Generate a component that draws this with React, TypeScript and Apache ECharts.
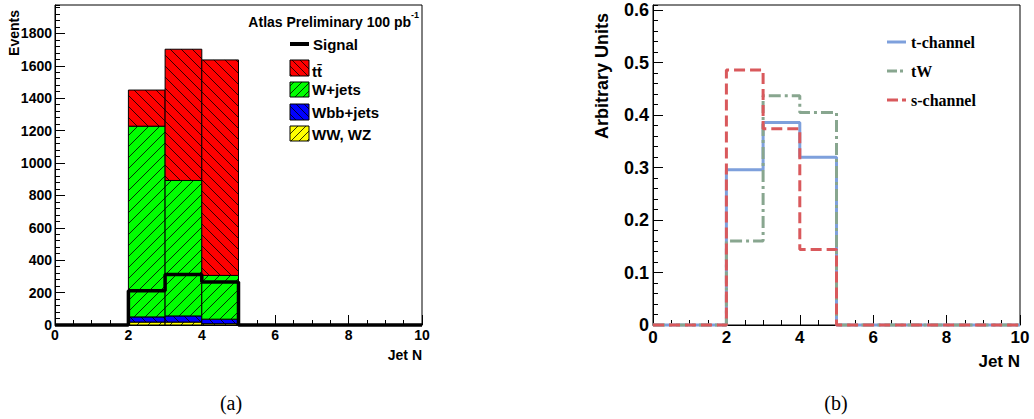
import React, { useEffect, useRef } from 'react';
import * as echarts from 'echarts';

// ---------- data ----------
const binLow = [0, 1, 2, 3, 4, 5, 6, 7, 8, 9];
const xMax = 10;

// left panel: stacked backgrounds (events per bin)
const wwwz = [0, 0, 18, 18, 8, 0, 0, 0, 0, 0];
const wbb = [0, 0, 32, 38, 28, 0, 0, 0, 0, 0];
const wjets = [0, 0, 1177, 836, 270, 0, 0, 0, 0, 0];
const ttbar = [0, 0, 223, 810, 1330, 0, 0, 0, 0, 0];
const signal = [0, 0, 212, 312, 265, 0, 0, 0, 0, 0];

// right panel: normalised shapes
const tChannel = [0, 0, 0.296, 0.386, 0.32, 0, 0, 0, 0, 0];
const tW = [0, 0, 0.16, 0.437, 0.405, 0, 0, 0, 0, 0];
const sChannel = [0, 0, 0.486, 0.374, 0.144, 0, 0, 0, 0, 0];

const leftYMax = 1975;
const rightYMax = 0.61;

// ---------- styles ----------
const stackLayers = [
  { name: 'WW, WZ', values: wwwz, color: '#ffff00', hatch: '/' },
  { name: 'Wbb+jets', values: wbb, color: '#0000ff', hatch: '\\' },
  { name: 'W+jets', values: wjets, color: '#00ff00', hatch: '/' },
  { name: 'tt\u0304', values: ttbar, color: '#ff0000', hatch: '\\' },
];

const SANS = 'Liberation Sans';
const SERIF = 'Liberation Serif';

function hatchLines(rx0: number, ry0: number, rx1: number, ry1: number, dir: string, s: number, lw: number) {
  const out: any[] = [];
  if (dir === '\\') {
    const k0 = Math.ceil((ry0 - rx1) / s), k1 = Math.floor((ry1 - rx0) / s);
    for (let k = k0; k <= k1; k++) {
      const c = k * s;
      const xa = Math.max(rx0, ry0 - c), xb = Math.min(rx1, ry1 - c);
      if (xb > xa) out.push({ type: 'line', silent: true, shape: { x1: xa, y1: xa + c, x2: xb, y2: xb + c }, style: { stroke: '#000', lineWidth: lw } });
    }
  } else {
    const k0 = Math.ceil((rx0 + ry0) / s), k1 = Math.floor((rx1 + ry1) / s);
    for (let k = k0; k <= k1; k++) {
      const c = k * s;
      const xa = Math.max(rx0, c - ry1), xb = Math.min(rx1, c - ry0);
      if (xb > xa) out.push({ type: 'line', silent: true, shape: { x1: xa, y1: c - xa, x2: xb, y2: c - xb }, style: { stroke: '#000', lineWidth: lw } });
    }
  }
  return out;
}

function stepData(vals: number[]) {
  const d: number[][] = binLow.map((b, i) => [b, vals[i]]);
  d.push([xMax, vals[vals.length - 1]]);
  return d;
}

function makeXAxes(gridIndex: number, fs: number, margin: number) {
  return [
    {
      type: 'value', gridIndex, min: 0, max: xMax, interval: 2, position: 'bottom',
      axisLine: { show: true, lineStyle: { color: '#000', width: 1 } },
      axisTick: { show: true, inside: true, length: 10, lineStyle: { color: '#000', width: 1 } },
      axisLabel: { show: true, color: '#000', fontFamily: SANS, fontWeight: 'bold', fontSize: fs, margin },
      splitLine: { show: false },
    },
    {
      type: 'value', gridIndex, min: 0, max: xMax, interval: 0.5, position: 'bottom',
      axisLine: { show: false },
      axisTick: { show: true, inside: true, length: 5, lineStyle: { color: '#000', width: 1 } },
      axisLabel: { show: false },
      splitLine: { show: false },
    },
  ];
}

function makeYAxes(gridIndex: number, max: number, major: number, minor: number, fs: number, margin: number, fmt: (v: number) => string) {
  return [
    {
      type: 'value', gridIndex, min: 0, max, interval: major, position: 'left',
      axisLine: { show: true, lineStyle: { color: '#000', width: 1 } },
      axisTick: { show: true, inside: true, length: 10, lineStyle: { color: '#000', width: 1 } },
      axisLabel: { show: true, color: '#000', fontFamily: SANS, fontWeight: 'bold', fontSize: fs, margin, showMaxLabel: false, formatter: fmt },
      splitLine: { show: false },
    },
    {
      type: 'value', gridIndex, min: 0, max, interval: minor, position: 'left',
      axisLine: { show: false },
      axisTick: { show: true, inside: true, length: 5, lineStyle: { color: '#000', width: 1 } },
      axisLabel: { show: false },
      splitLine: { show: false },
    },
  ];
}

export default function App() {
  const ref = useRef<HTMLDivElement>(null);

  useEffect(() => {
    document.body.style.margin = '0';
    if (!ref.current) return;
    const chart = echarts.init(ref.current, undefined, { renderer: 'svg' });

    // stacked rectangles data
    const stackData: number[][] = [];
    binLow.forEach((b, i) => {
      let base = 0;
      stackLayers.forEach((L, li) => {
        const top = base + L.values[i];
        if (L.values[i] > 0) stackData.push([b, base, top, li]);
        base = top;
      });
    });

    const graphic: any[] = [];
    // left legend
    graphic.push({ type: 'text', style: { text: 'Atlas Preliminary 100 pb', x: 411, y: 22, textAlign: 'right', textVerticalAlign: 'middle', font: `bold 14px "${SANS}"`, fill: '#000' } });
    graphic.push({ type: 'text', style: { text: '-1', x: 411, y: 15, textAlign: 'left', textVerticalAlign: 'middle', font: `bold 9px "${SANS}"`, fill: '#000' } });
    graphic.push({ type: 'line', shape: { x1: 290, y1: 44, x2: 309, y2: 44 }, style: { stroke: '#000', lineWidth: 4 } });
    graphic.push({ type: 'text', style: { text: 'Signal', x: 313, y: 44, textVerticalAlign: 'middle', font: `bold 15px "${SANS}"`, fill: '#000' } });
    const legBoxes = [
      { li: 3, y0: 60, y1: 76, ty: 71 },
      { li: 2, y0: 82, y1: 97, ty: 89 },
      { li: 1, y0: 104, y1: 120, ty: 112 },
      { li: 0, y0: 126, y1: 141, ty: 134 },
    ];
    legBoxes.forEach((B) => {
      const L = stackLayers[B.li];
      graphic.push({ type: 'rect', shape: { x: 290, y: B.y0, width: 19, height: B.y1 - B.y0 }, style: { fill: L.color } });
      hatchLines(290, B.y0, 309, B.y1, L.hatch, 8, 0.8).forEach((l) => graphic.push(l));
      graphic.push({ type: 'rect', shape: { x: 290, y: B.y0, width: 19, height: B.y1 - B.y0 }, style: { fill: 'none', stroke: '#000', lineWidth: 1 } });
      graphic.push({ type: 'text', style: { text: L.name, x: 312, y: B.ty, textVerticalAlign: 'middle', font: `bold 15px "${SANS}"`, fill: '#000' } });
    });
    // axis titles
    graphic.push({ type: 'text', x: 14, y: 33, rotation: Math.PI / 2, style: { text: 'Events', x: 0, y: 0, textAlign: 'center', textVerticalAlign: 'middle', font: `bold 14px "${SANS}"`, fill: '#000' } });
    graphic.push({ type: 'text', style: { text: 'Jet N', x: 422, y: 355, textAlign: 'right', textVerticalAlign: 'middle', font: `bold 14px "${SANS}"`, fill: '#000' } });
    graphic.push({ type: 'text', x: 602, y: 76, rotation: Math.PI / 2, style: { text: 'Arbitrary Units', x: 0, y: 0, textAlign: 'center', textVerticalAlign: 'middle', font: `bold 18px "${SANS}"`, fill: '#000' } });
    graphic.push({ type: 'text', style: { text: 'Jet N', x: 1020, y: 361, textAlign: 'right', textVerticalAlign: 'middle', font: `bold 17px "${SANS}"`, fill: '#000' } });
    // right legend
    const rLeg = [
      { text: 't-channel', color: '#7ea0dc', dash: null as any, y: 42 },
      { text: 'tW', color: '#88a68f', dash: [10, 3, 3, 3], y: 71 },
      { text: 's-channel', color: '#d9595c', dash: [11, 4], y: 100 },
    ];
    rLeg.forEach((e) => {
      graphic.push({ type: 'line', shape: { x1: 887, y1: e.y, x2: 906, y2: e.y }, style: { stroke: e.color, lineWidth: 3, lineDash: e.dash } });
      graphic.push({ type: 'text', style: { text: e.text, x: 911, y: e.y, textVerticalAlign: 'middle', font: `bold 16px "${SERIF}"`, fill: '#000' } });
    });
    // captions
    graphic.push({ type: 'text', style: { text: '(a)', x: 231, y: 403, textAlign: 'center', textVerticalAlign: 'middle', font: `20px "${SERIF}"`, fill: '#000' } });
    graphic.push({ type: 'text', style: { text: '(b)', x: 836, y: 403, textAlign: 'center', textVerticalAlign: 'middle', font: `20px "${SERIF}"`, fill: '#000' } });

    const option: any = {
      animation: false,
      backgroundColor: '#fff',
      grid: [
        { left: 55, top: 5, width: 367, height: 320, show: true, borderColor: '#000', borderWidth: 1, backgroundColor: 'transparent' },
        { left: 653, top: 5, width: 367, height: 320, show: true, borderColor: '#000', borderWidth: 1, backgroundColor: 'transparent' },
      ],
      xAxis: [...makeXAxes(0, 14, 3), ...makeXAxes(1, 17, 4)],
      yAxis: [
        ...makeYAxes(0, leftYMax, 200, 40, 14, 3, (v: number) => String(Math.round(v))),
        ...makeYAxes(1, rightYMax, 0.1, 0.02, 18, 4, (v: number) => (Math.abs(v) < 1e-9 ? '0' : v.toFixed(1))),
      ],
      series: [
        {
          type: 'custom', xAxisIndex: 0, yAxisIndex: 0, data: stackData, encode: { x: 0, y: [1, 2] }, z: 2,
          renderItem: (params: any, api: any) => {
            const x0 = api.value(0), lo = api.value(1), hi = api.value(2), li = api.value(3);
            const a = api.coord([x0, lo]);
            const b = api.coord([x0 + 1, hi]);
            const rx0 = a[0], rx1 = b[0], ry0 = b[1], ry1 = a[1];
            const L = stackLayers[li];
            const children: any[] = [
              { type: 'rect', shape: { x: rx0, y: ry0, width: rx1 - rx0, height: ry1 - ry0 }, style: { fill: L.color } },
              ...hatchLines(rx0, ry0, rx1, ry1, L.hatch, 11, 0.8),
              { type: 'rect', shape: { x: rx0, y: ry0, width: rx1 - rx0, height: ry1 - ry0 }, style: { fill: 'none', stroke: '#000', lineWidth: 1 } },
            ];
            return { type: 'group', children };
          },
        },
        {
          name: 'Signal', type: 'line', xAxisIndex: 0, yAxisIndex: 0, step: 'end', symbol: 'none', clip: false, z: 10,
          data: stepData(signal), lineStyle: { color: '#000', width: 3.5 },
        },
        {
          name: 't-channel', type: 'line', xAxisIndex: 2, yAxisIndex: 2, step: 'end', symbol: 'none', clip: false, z: 3,
          data: stepData(tChannel), lineStyle: { color: '#7ea0dc', width: 3 },
        },
        {
          name: 'tW', type: 'line', xAxisIndex: 2, yAxisIndex: 2, step: 'end', symbol: 'none', clip: false, z: 4,
          data: stepData(tW), lineStyle: { color: '#88a68f', width: 3, type: [12, 4, 3, 4] },
        },
        {
          name: 's-channel', type: 'line', xAxisIndex: 2, yAxisIndex: 2, step: 'end', symbol: 'none', clip: false, z: 5,
          data: stepData(sChannel), lineStyle: { color: '#d9595c', width: 3, type: [11, 5] },
        },
      ],
      graphic,
    };
    chart.setOption(option);
    return () => chart.dispose();
  }, []);

  return <div ref={ref} style={{ width: 1034, height: 419 }} />;
}
